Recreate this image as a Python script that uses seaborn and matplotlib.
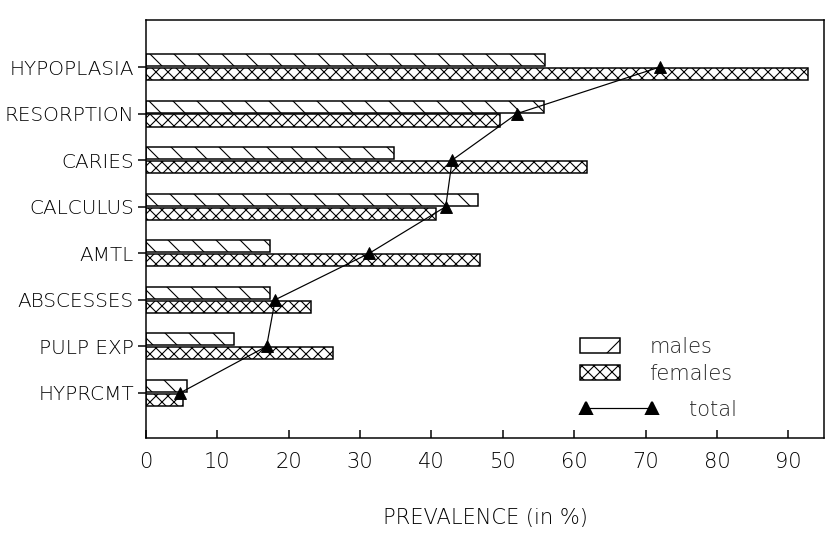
import matplotlib
matplotlib.use("Agg")
import matplotlib.pyplot as plt
import seaborn as sns
import pandas as pd
from matplotlib.patches import Patch
from matplotlib.lines import Line2D

# ---- data ----
categories = ["HYPOPLASIA", "RESORPTION", "CARIES", "CALCULUS",
              "AMTL", "ABSCESSES", "PULP EXP", "HYPRCMT"]
males = [55.9, 55.8, 34.7, 46.5, 17.4, 17.4, 12.4, 5.7]
females = [92.8, 49.6, 61.8, 40.6, 46.8, 23.1, 26.2, 5.2]
total = [72.0, 52.0, 42.9, 42.0, 31.3, 18.1, 16.9, 4.8]
series = ["males", "females"]
xticks = [0, 10, 20, 30, 40, 50, 60, 70, 80, 90]
xlabel = "PREVALENCE (in %)"

sns.set_theme(style="ticks")
plt.rcParams["font.family"] = ["DejaVu Sans"]
plt.rcParams["font.weight"] = "light"
plt.rcParams["axes.labelweight"] = "light"
plt.rcParams["hatch.linewidth"] = 0.55
plt.rcParams["axes.linewidth"] = 0.75

df = pd.DataFrame({
    "category": categories * 2,
    "sex": ["males"] * len(categories) + ["females"] * len(categories),
    "value": males + females,
})
tdf = pd.DataFrame({"category": categories, "total": total})

DPI = 144
fig = plt.figure(figsize=(831 / DPI, 536 / DPI), dpi=DPI)
ax = fig.add_axes([146 / 831, 1 - 438 / 536, 678 / 831, 418 / 536])

sns.barplot(data=df, x="value", y="category", hue="sex", order=categories,
            hue_order=series, orient="h",
            palette={"males": "white", "females": "white"},
            edgecolor="black", linewidth=0.75, width=0.6, gap=0.13,
            legend=False, ax=ax)
hatches = {"males": "\\\\", "females": "xxxx"}
for cont, s in zip(ax.containers, series):
    for bar in cont:
        bar.set_hatch(hatches[s])
        bar.set_edgecolor("black")

sns.pointplot(data=tdf, x="total", y="category", order=categories,
              orient="h", color="black", markers="^", linestyles="-",
              markersize=6, linewidth=0.6, errorbar=None, legend=False,
              ax=ax)

ax.set_xlim(0, 95)
ax.set_ylim(7.97, -1.01)
ax.set_xticks(xticks)
ax.set_ylabel("")
ax.set_xlabel(xlabel, fontsize=10.5, labelpad=18, color="black",
              fontweight="light")
ax.tick_params(axis="x", direction="in", length=4, width=0.75, pad=7,
               labelsize=10.5, colors="black")
ax.tick_params(axis="y", direction="out", length=4, width=0.75, pad=2,
               labelsize=10, colors="black")
for sp in ax.spines.values():
    sp.set_visible(True)
    sp.set_color("black")
    sp.set_linewidth(0.75)

h1 = [Patch(facecolor="white", edgecolor="black", hatch="/", linewidth=0.75),
      Patch(facecolor="white", edgecolor="black", hatch="xxxx", linewidth=0.75)]
leg1 = ax.legend(h1, series, loc="center left", bbox_to_anchor=(60.8, 6.3),
                 bbox_transform=ax.transData, frameon=False, fontsize=10.5,
                 handlelength=1.9, handleheight=0.75, handletextpad=1.4,
                 labelspacing=0.35, borderpad=0, borderaxespad=0)
ax.add_artist(leg1)
h2 = [Line2D([], [], color="black", marker="^", markersize=6, linewidth=0.6)]
ax.legend(h2, ["total"], loc="center left", bbox_to_anchor=(60.8, 7.36),
          bbox_transform=ax.transData, frameon=False, fontsize=10.5,
          handlelength=3.75, handletextpad=1.45, numpoints=2,
          borderpad=0, borderaxespad=0)

fig.savefig("out.png", dpi=DPI)
